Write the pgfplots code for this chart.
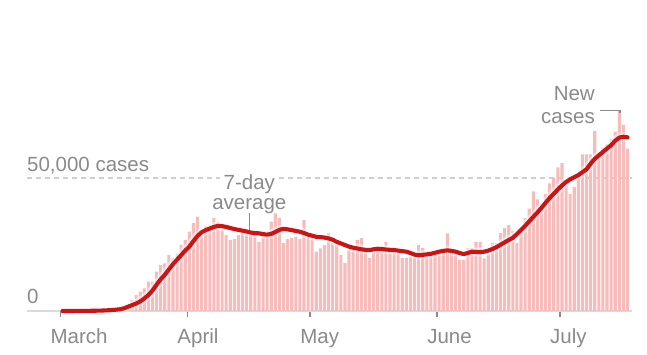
\documentclass[border=0pt]{standalone}
\usepackage{pgfplots}
\pgfplotsset{compat=1.18}
\usepackage{pgfplotstable}
\usepackage{fontspec}
\setmainfont{Liberation Sans}
\definecolor{barpink}{HTML}{F6BCBC}
\definecolor{linered}{HTML}{CC1414}
\definecolor{txtgray}{HTML}{8A8A8A}
\definecolor{basegray}{HTML}{DADADA}
\definecolor{gridgray}{HTML}{CFCFCF}
\newcommand{\lbl}{\fontsize{20.5}{24}\selectfont}

\pgfplotstableread{
d v
0 10
1 15
2 20
3 30
4 40
5 60
6 80
7 110
8 160
9 230
10 300
11 400
12 520
13 650
14 800
15 1300
16 2300
17 4100
18 6000
19 7300
20 8500
21 11000
22 11000
23 14800
24 17300
25 17900
26 21000
27 19800
28 21700
29 24800
30 26700
31 29800
32 33000
33 35500
34 28000
35 32000
36 32500
37 35000
38 33500
39 31000
40 28500
41 26700
42 27000
43 28500
44 29800
45 30000
46 29800
47 29500
48 26000
49 29800
50 28000
51 33600
52 36700
53 35000
54 25500
55 27000
56 27500
57 28000
58 27000
59 34200
60 28000
61 28600
62 22300
63 23500
64 24800
65 29300
66 25500
67 25500
68 21000
69 18000
70 23000
71 23000
72 26700
73 27400
74 22300
75 20000
76 22300
77 22300
78 22300
79 26000
80 23000
81 22500
82 21800
83 20000
84 20000
85 20400
86 21000
87 24800
88 23700
89 21000
90 21000
91 22300
92 21500
93 22000
94 29200
95 21700
96 21700
97 19200
98 19200
99 23600
100 23600
101 26000
102 26000
103 19800
104 21000
105 25500
106 25500
107 29300
108 31200
109 32300
110 30100
111 25600
112 31000
113 35000
114 38500
115 45000
116 42000
117 40000
118 44000
119 48000
120 50000
121 54000
122 55600
123 47000
124 43900
125 46600
126 49700
127 58900
128 58900
129 58900
130 67700
131 59600
132 61500
133 62800
134 64800
135 67400
136 75200
137 70000
138 61000
}\daily

\pgfplotstableread{
d a
0 10
1 12
2 15
3 20
4 28
5 40
6 55
7 75
8 100
9 140
10 190
11 260
12 350
13 480
14 650
15 1000
16 1600
17 2200
18 2800
19 3600
20 4700
21 6000
22 7700
23 9900
24 11900
25 13600
26 15600
27 17600
28 19300
29 21000
30 22700
31 24200
32 26300
33 28200
34 29600
35 30400
36 31000
37 31600
38 32000
39 31900
40 31600
41 31200
42 30800
43 30500
44 30200
45 29900
46 29500
47 29300
48 29200
49 28900
50 28700
51 29000
52 29700
53 30500
54 30900
55 30700
56 30400
57 30100
58 29800
59 29300
60 28700
61 28300
62 27900
63 27800
64 27600
65 27300
66 26800
67 26000
68 25400
69 24800
70 24200
71 23800
72 23500
73 23200
74 23000
75 22900
76 23200
77 23400
78 23300
79 23100
80 23000
81 22900
82 22700
83 22500
84 22300
85 21800
86 21200
87 21000
88 21100
89 21300
90 21500
91 21900
92 22300
93 22600
94 22800
95 22600
96 22300
97 21800
98 21400
99 21800
100 22300
101 22200
102 22100
103 22300
104 22700
105 23300
106 24000
107 24900
108 25800
109 26700
110 27500
111 28900
112 30500
113 32000
114 33700
115 35400
116 37000
117 38800
118 40700
119 42500
120 44100
121 45700
122 47200
123 48500
124 49500
125 50300
126 51100
127 52200
128 53300
129 55400
130 57200
131 58500
132 59800
133 61100
134 62300
135 64000
136 65200
137 65500
138 65300
}\avg

\begin{document}
\begin{tikzpicture}
\useasboundingbox (-27pt,-44pt) rectangle (620pt,311pt);
\begin{axis}[
  at={(0pt,0pt)}, anchor=south west,
  scale only axis, width=605pt, height=266pt,
  xmin=-8.645, xmax=139.1, ymin=0, ymax=100000,
  scaled y ticks=false,
  axis x line*=bottom, axis y line*=left,
  x axis line style={basegray, line width=2pt},
  y axis line style={draw=none},
  xtick={-0.5,30.5,60.5,91.5,121.5},
  xticklabels={March,April,May,June,July},
  tick align=outside, major tick length=6.5pt,
  xtick style={txtgray, line width=1.3pt},
  xticklabel style={font=\lbl, text=txtgray, anchor=base west, inner sep=0pt, xshift=-10pt, yshift=-26pt},
  ytick={50000}, yticklabels={},
  ytick style={draw=none},
  ymajorgrids=true,
  grid style={gridgray, line width=1.2pt, dash pattern=on 5pt off 4pt},
  clip=false,
]
\addplot[ybar, bar width=3.1pt, bar shift=0pt, fill=barpink, draw=none] table[x=d,y=v]{\daily};
\addplot[no markers, white, opacity=0.45, line width=9pt, line join=round] table[x=d,y=a]{\avg};
\addplot[no markers, linered, line width=4.1pt, line join=round, line cap=round] table[x=d,y=a]{\avg};
\node[anchor=base west, inner sep=0pt, font=\lbl, text=txtgray] at (axis cs:-8.645,52264) {50,000 cases};
\node[anchor=base west, inner sep=0pt, font=\lbl, text=txtgray] at (axis cs:-8.645,3000) {0};
\node[anchor=base, inner xsep=4pt, inner ysep=1pt, fill=white, font=\lbl, text=txtgray] at (axis cs:45.64,45500) {7-day};
\node[anchor=base, inner sep=0pt, font=\lbl, text=txtgray] at (axis cs:45.64,37976) {average};
\draw[txtgray, line width=1.3pt] (axis cs:45.64,36900) -- (axis cs:45.64,30460);
\node[anchor=base east, inner sep=0pt, font=\lbl, text=txtgray] at (axis cs:130.06,79150) {New};
\node[anchor=base east, inner sep=0pt, font=\lbl, text=txtgray] at (axis cs:130.06,70310) {cases};
\draw[txtgray, line width=1.3pt] (axis cs:131.3,75390) -- (axis cs:136.2,75390) -- (axis cs:136.2,74300);
\end{axis}
\end{tikzpicture}
\end{document}
